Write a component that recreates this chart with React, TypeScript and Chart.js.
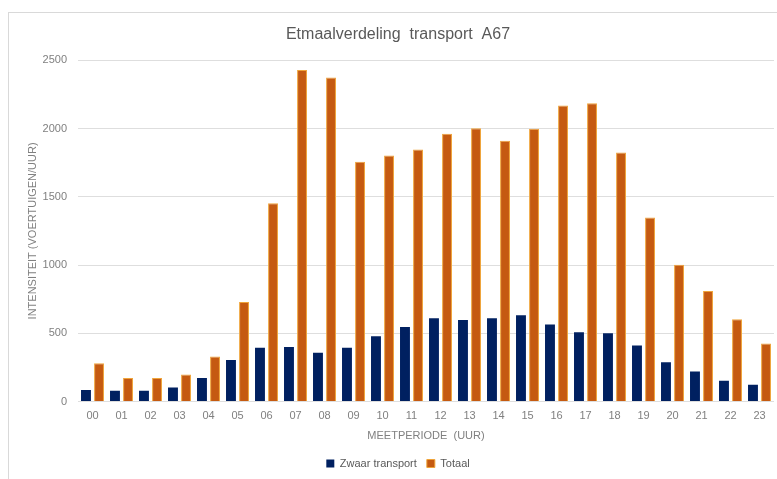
import React, { useEffect, useRef } from "react";
import { Chart, registerables } from "chart.js";

Chart.register(...registerables);

const hours = ["00","01","02","03","04","05","06","07","08","09","10","11","12","13","14","15","16","17","18","19","20","21","22","23"];
const zwaarTransport = [85, 80, 80, 104, 172, 304, 394, 399, 358, 394, 479, 547, 610, 598, 610, 632, 564, 508, 501, 411, 289, 221, 153, 124];
const totaal = [280, 172, 172, 199, 331, 730, 1453, 2429, 2373, 1756, 1802, 1846, 1961, 2002, 1910, 1998, 2169, 2185, 1824, 1348, 1002, 810, 603, 426];
const yTicks = [0, 500, 1000, 1500, 2000, 2500];

const FONT = "'Liberation Sans', 'Noto Sans', sans-serif";

export default function App() {
  const ref = useRef<HTMLCanvasElement | null>(null);
  useEffect(() => {
    if (!ref.current) return;
    const chart = new Chart(ref.current, {
      type: "bar",
      data: {
        labels: hours,
        datasets: [
          {
            label: "Zwaar transport",
            data: zwaarTransport,
            backgroundColor: "#002060",
            borderColor: "#0b2a6b",
            borderWidth: 0,
          },
          {
            label: "Totaal",
            data: totaal,
            backgroundColor: "#C55A11",
            borderColor: "#EFA43A",
            borderWidth: 1,
          },
        ],
      },
      options: {
        responsive: false,
        animation: false,
        layout: { padding: { left: 13, right: 3, top: 0, bottom: 0 } },
        datasets: { bar: { categoryPercentage: 0.9, barPercentage: 0.76 } },
        plugins: {
          title: {
            display: true,
            text: "Etmaalverdeling  transport  A67",
            color: "#595959",
            font: { family: FONT, size: 16, weight: "normal" },
            padding: { top: 12, bottom: 16 },
          },
          legend: {
            position: "bottom",
            labels: {
              color: "#595959",
              font: { family: FONT, size: 11 },
              boxWidth: 8,
              boxHeight: 8,
              padding: 10,
            },
          },
          tooltip: { enabled: false },
        },
        scales: {
          x: {
            grid: { display: false, drawTicks: false },
            border: { display: false },
            ticks: { color: "#808080", font: { family: FONT, size: 11 }, padding: 8, maxRotation: 0 },
            title: {
              display: true,
              text: "MEETPERIODE  (UUR)",
              color: "#808080",
              font: { family: FONT, size: 11 },
              padding: { top: -1, bottom: 5 },
            },
          },
          y: {
            min: 0,
            max: 2500,
            afterBuildTicks: (s: any) => {
              s.ticks = yTicks.map((v) => ({ value: v }));
            },
            afterFit: (s: any) => {
              s.width = 56;
            },
            grid: { color: "#dedede", drawTicks: false },
            border: { display: false },
            ticks: {
              color: "#808080",
              font: { family: FONT, size: 11 },
              padding: 11,
              callback: (v: any) => String(v),
            },
            title: {
              display: true,
              text: "INTENSITEIT (VOERTUIGEN/UUR)",
              color: "#808080",
              font: { family: FONT, size: 11 },
              padding: { top: 4, bottom: 4 },
            },
          },
        },
      },
    });
    return () => chart.destroy();
  }, []);

  return (
    <div style={{ position: "fixed", left: 0, top: 0, width: 777, height: 479, overflow: "hidden", background: "#fff" }}>
      <div style={{ position: "absolute", left: 8, top: 12, width: 800, height: 500, border: "1px solid #d9d9d9", boxSizing: "border-box" }} />
      <canvas ref={ref} width={768} height={466} style={{ position: "absolute", left: 9, top: 13 }} />
    </div>
  );
}
